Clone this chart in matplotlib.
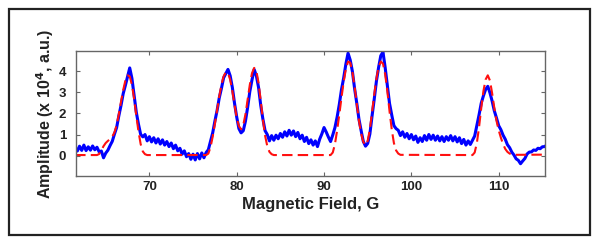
import numpy as np
import matplotlib
matplotlib.use("Agg")
import matplotlib.pyplot as plt
from matplotlib.patches import Rectangle

plt.rcParams['font.family'] = ['Liberation Sans', 'DejaVu Sans']

# measured spectrum, 0.25 G steps from 61.5 G
field_start = 61.5
field_step = 0.25
amp_measured = [
    0.40, 0.22, 0.45, 0.25,   # 61.5
    0.50, 0.24, 0.42, 0.26,   # 62.5
    0.46, 0.28, 0.40, 0.18,   # 63.5
    0.22, -0.10, 0.12, 0.26,  # 64.5
    0.48, 0.68, 1.02, 1.33,   # 65.5
    1.88, 2.37, 2.93, 3.32,   # 66.5
    3.74, 4.15, 3.66, 2.84,   # 67.5
    2.06, 1.49, 1.01, 0.89,   # 68.5
    1.00, 0.70, 0.90, 0.65,   # 69.5
    0.85, 0.60, 0.80, 0.55,   # 70.5
    0.75, 0.50, 0.67, 0.43,   # 71.5
    0.60, 0.33, 0.50, 0.23,   # 72.5
    0.35, 0.07, 0.23, -0.05,  # 73.5
    0.10, -0.17, 0.07, -0.20, # 74.5
    0.10, -0.15, 0.13, -0.10, # 75.5
    0.15, 0.28, 0.68, 1.08,   # 76.5
    1.63, 2.13, 2.73, 3.18,   # 77.5
    3.68, 3.88, 4.08, 3.78,   # 78.5
    3.23, 2.48, 1.83, 1.28,   # 79.5
    1.08, 1.18, 1.63, 2.28,   # 80.5
    3.03, 3.58, 4.08, 3.78,   # 81.5
    3.23, 2.38, 1.73, 1.18,   # 82.5
    1.00, 0.70, 0.95, 0.73,   # 83.5
    0.97, 0.80, 1.05, 0.87,   # 84.5
    1.13, 0.93, 1.20, 0.97,   # 85.5
    1.17, 0.90, 1.10, 0.80,   # 86.5
    0.97, 0.67, 0.87, 0.57,   # 87.5
    0.75, 0.50, 0.70, 0.43,   # 88.5
    0.78, 1.03, 1.33, 1.12,   # 89.5
    0.88, 0.67, 0.98, 1.33,   # 90.5
    1.83, 2.43, 3.13, 3.68,   # 91.5
    4.33, 4.85, 4.52, 3.98,   # 92.5
    3.17, 2.48, 1.72, 1.18,   # 93.5
    0.67, 0.45, 0.58, 1.03,   # 94.5
    1.88, 2.68, 3.53, 4.18,   # 95.5
    4.73, 4.90, 4.17, 3.33,   # 96.5
    2.47, 1.93, 1.42, 1.28,   # 97.5
    1.20, 0.95, 1.13, 0.87,   # 98.5
    1.05, 0.80, 1.00, 0.75,   # 99.5
    0.93, 0.63, 0.85, 0.67,   # 100.5
    0.95, 0.73, 1.00, 0.77,   # 101.5
    0.97, 0.73, 0.93, 0.70,   # 102.5
    0.90, 0.67, 0.90, 0.73,   # 103.5
    0.95, 0.70, 0.90, 0.65,   # 104.5
    0.85, 0.57, 0.77, 0.50,   # 105.5
    0.70, 0.53, 0.73, 0.93,   # 106.5
    1.43, 1.93, 2.48, 2.83,   # 107.5
    3.13, 3.28, 2.97, 2.58,   # 108.5
    2.12, 1.78, 1.42, 1.23,   # 109.5
    0.97, 0.78, 0.52, 0.38,   # 110.5
    0.17, 0.03, -0.15, -0.22, # 111.5
    -0.38, -0.25, -0.13, 0.08,  # 112.5
    0.17, 0.18, 0.27, 0.25,   # 113.5
    0.35, 0.33, 0.42, 0.43,   # 114.5
    0.50,
]
field_measured = field_start + field_step * np.arange(len(amp_measured))

# simulated fit (red dashed)
field_fit = [61.5, 64.0, 64.25, 64.5, 64.75, 65.0, 65.25, 65.5, 65.75, 66.0,
             66.25, 66.5, 66.75, 67.0, 67.25, 67.5, 67.75, 68.0, 68.25, 68.5,
             68.75, 69.0, 69.25, 69.5, 69.75, 76.5, 76.75, 77.0, 77.25, 77.5,
             77.75, 78.0, 78.25, 78.5, 78.75, 79.0, 79.25, 79.5, 79.75, 80.0,
             80.25, 80.5, 80.75, 81.0, 81.25, 81.5, 81.75, 82.0, 82.25, 82.5,
             82.75, 83.0, 83.25, 83.5, 83.75, 84.0, 84.25, 90.75, 91.0, 91.25,
             91.5, 91.75, 92.0, 92.25, 92.5, 92.75, 93.0, 93.25, 93.5, 93.75,
             94.0, 94.25, 94.5, 94.75, 95.0, 95.25, 95.5, 95.75, 96.0, 96.25,
             96.5, 96.75, 97.0, 97.25, 97.5, 97.75, 98.0, 98.25, 98.5, 98.75,
             107.0, 107.25, 107.5, 107.75, 108.0, 108.25, 108.5, 108.75, 109.0, 109.25,
             109.5, 109.75, 110.0, 110.25, 110.5, 110.75, 111.0, 111.25, 111.5, 111.75,
             115.5]
amp_fit = [0.03, 0.03, 0.08, 0.25, 0.45, 0.60, 0.70, 0.78, 0.90, 1.10,
           1.45, 1.95, 2.55, 3.10, 3.55, 3.80, 3.75, 3.35, 2.70, 1.90,
           1.15, 0.55, 0.20, 0.07, 0.03, 0.03, 0.10, 0.40, 0.90, 1.50,
           2.15, 2.80, 3.35, 3.75, 3.95, 3.90, 3.60, 3.05, 2.40, 1.80,
           1.40, 1.25, 1.45, 1.95, 2.65, 3.35, 3.90, 4.15, 4.00, 3.45,
           2.60, 1.70, 0.95, 0.45, 0.18, 0.07, 0.03, 0.03, 0.15, 0.55,
           1.20, 1.95, 2.75, 3.50, 4.10, 4.45, 4.40, 3.95, 3.25, 2.45,
           1.65, 1.05, 0.65, 0.50, 0.70, 1.25, 2.05, 2.90, 3.65, 4.20,
           4.45, 4.35, 3.85, 3.05, 2.10, 1.25, 0.60, 0.25, 0.10, 0.04,
           0.03, 0.15, 0.60, 1.35, 2.25, 3.05, 3.60, 3.80, 3.55, 2.95,
           2.25, 1.65, 1.20, 0.85, 0.55, 0.32, 0.18, 0.10, 0.06, 0.04,
           0.05]

x_ticks = [70, 80, 90, 100, 110]
y_ticks = [0, 1, 2, 3, 4]

fig = plt.figure(figsize=(6.0, 2.46), dpi=100)
fig.patches.append(Rectangle((0.015, 0.045), 0.968, 0.918, transform=fig.transFigure,
                             fill=False, edgecolor='#222222', linewidth=1.6))

ax = fig.add_axes([0.1267, 0.2846, 0.7816, 0.5081])
ax.plot(field_measured, amp_measured, color='#0000ff', linewidth=2.2)
ax.plot(field_fit, amp_fit, color='#ff1010', linewidth=1.5, dashes=(5, 2.5))

ax.set_xlim(61.6, 115.3)
ax.set_ylim(-0.96, 4.95)
ax.set_xticks(x_ticks)
ax.set_yticks(y_ticks)
ax.tick_params(direction='in', length=3, width=0.8, top=True, right=True,
               color='#666666', labelsize=9.5, labelcolor='#222222')
ax.tick_params(axis='x', pad=3.5)
ax.tick_params(axis='y', pad=7)
for lab in ax.get_xticklabels() + ax.get_yticklabels():
    lab.set_fontweight('bold')
for s in ax.spines.values():
    s.set_color('#666666')
    s.set_linewidth(1.0)

ax.set_xlabel('Magnetic Field, G', fontsize=12, fontweight='bold', color='#222222', labelpad=3)
ax.set_ylabel('Amplitude (x 10$^\\mathbf{4}$, a.u.)', fontsize=11.5, fontweight='bold',
              color='#222222', labelpad=2)

fig.savefig('out.png', dpi=100)
